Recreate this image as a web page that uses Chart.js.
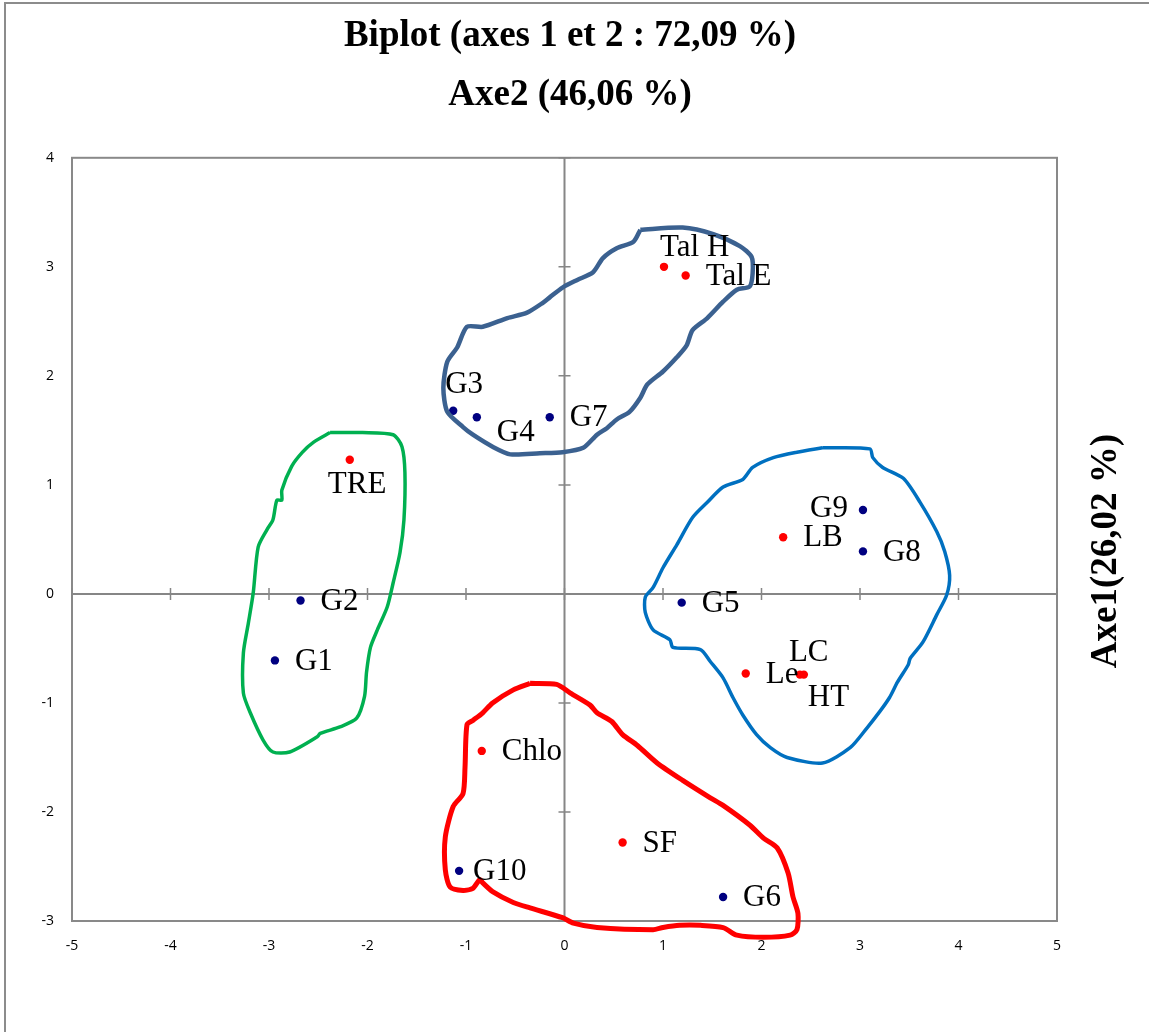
<!DOCTYPE html>
<html>
<head>
<meta charset="utf-8">
<script src="https://cdn.jsdelivr.net/npm/chart.js@4/dist/chart.umd.min.js"></script>
<style>
  html, body { margin: 0; padding: 0; background: #fff; }
  #wrap { width: 1149px; height: 1032px; }
</style>
</head>
<body>
<div id="wrap"><canvas id="biplot"></canvas></div>
<script>
// observations (G1..G10)
const groupNames = ['G1', 'G2', 'G3', 'G4', 'G7', 'G5', 'G9', 'G8', 'G10', 'G6'];
const groupX = [-2.94, -2.68, -1.13, -0.89, -0.15, 1.19, 3.03, 3.03, -1.07, 1.61];
const groupY = [-0.61, -0.06, 1.68, 1.62, 1.62, -0.08, 0.77, 0.39, -2.54, -2.78];

// variables
const varNames = ['TRE', 'Tal H', 'Tal E', 'LB', 'Le', 'LC', 'HT', 'Chlo', 'SF'];
const varX = [-2.18, 1.01, 1.23, 2.22, 1.84, 2.39, 2.43, -0.84, 0.59];
const varY = [1.23, 3.00, 2.92, 0.52, -0.73, -0.74, -0.74, -1.44, -2.28];

const xTicks = [-5, -4, -3, -2, -1, 0, 1, 2, 3, 4, 5];
const yTicks = [-3, -2, -1, 0, 1, 2, 3, 4];

// hand drawn groupings, in axis units
const hullTal = [[0.77,3.34],[1.20,3.36],[1.51,3.30],[1.78,3.19],[1.90,3.09],[1.91,2.94],[1.88,2.82],[1.75,2.79],
  [1.61,2.68],[1.45,2.53],[1.30,2.42],[1.24,2.28],[1.14,2.17],[1.00,2.04],[0.84,1.92],[0.77,1.80],[0.66,1.67],
  [0.53,1.60],[0.43,1.52],[0.33,1.46],[0.19,1.34],[-0.02,1.30],[-0.25,1.29],[-0.55,1.28],[-0.73,1.35],[-0.93,1.46],
  [-1.03,1.53],[-1.19,1.67],[-1.23,1.89],[-1.19,2.13],[-1.09,2.26],[-0.99,2.45],[-0.83,2.45],[-0.58,2.53],
  [-0.38,2.58],[-0.22,2.67],[-0.15,2.72],[-0.02,2.81],[0.13,2.88],[0.29,2.95],[0.39,3.08],[0.53,3.17],[0.70,3.23],[0.77,3.34]];
const hullTre = [[-2.38,1.48],[-2.05,1.48],[-1.74,1.46],[-1.65,1.35],[-1.62,1.11],[-1.63,0.68],[-1.67,0.38],[-1.74,0.10],
  [-1.80,-0.12],[-1.90,-0.33],[-1.97,-0.49],[-2.01,-0.72],[-2.03,-0.94],[-2.11,-1.14],[-2.28,-1.22],[-2.48,-1.28],
  [-2.51,-1.31],[-2.79,-1.45],[-2.96,-1.45],[-3.06,-1.34],[-3.19,-1.09],[-3.26,-0.91],[-3.26,-0.54],[-3.21,-0.27],
  [-3.16,0.01],[-3.11,0.43],[-3.02,0.59],[-2.96,0.68],[-2.92,0.86],[-2.87,0.86],[-2.87,0.95],[-2.77,1.17],
  [-2.66,1.30],[-2.55,1.39],[-2.38,1.48]];
const hullLb = [[2.62,1.34],[3.10,1.33],[3.13,1.25],[3.23,1.16],[3.44,1.06],[3.61,0.84],[3.78,0.57],[3.86,0.39],
  [3.91,0.17],[3.88,-0.01],[3.78,-0.19],[3.64,-0.44],[3.51,-0.59],[3.49,-0.65],[3.38,-0.81],[3.30,-0.95],
  [3.20,-1.08],[3.07,-1.23],[2.90,-1.41],[2.62,-1.55],[2.26,-1.50],[2.09,-1.41],[1.95,-1.29],[1.81,-1.11],
  [1.71,-0.95],[1.61,-0.77],[1.48,-0.62],[1.38,-0.51],[1.10,-0.49],[1.07,-0.42],[0.90,-0.33],[0.82,-0.17],
  [0.82,-0.03],[0.90,0.06],[1.00,0.24],[1.14,0.45],[1.30,0.70],[1.45,0.84],[1.61,0.98],[1.81,1.05],[1.91,1.16],
  [2.12,1.25],[2.36,1.30],[2.62,1.34]];
const hullSf = [[-0.35,-0.82],[-0.08,-0.83],[0.06,-0.91],[0.26,-1.02],[0.33,-1.09],[0.48,-1.17],[0.59,-1.29],[0.74,-1.39],
  [0.94,-1.55],[1.20,-1.71],[1.48,-1.87],[1.61,-1.94],[1.88,-2.12],[2.02,-2.24],[2.16,-2.33],[2.27,-2.56],
  [2.32,-2.78],[2.37,-2.93],[2.36,-3.08],[2.29,-3.13],[2.02,-3.15],[1.75,-3.13],[1.61,-3.06],[1.38,-3.04],
  [1.17,-3.04],[1.00,-3.06],[0.90,-3.08],[0.33,-3.06],[0.09,-3.02],[-0.02,-2.97],[-0.35,-2.88],[-0.52,-2.83],
  [-0.73,-2.73],[-0.83,-2.65],[-0.86,-2.62],[-0.93,-2.70],[-1.03,-2.72],[-1.16,-2.69],[-1.21,-2.53],[-1.21,-2.23],
  [-1.13,-1.95],[-1.03,-1.83],[-1.01,-1.59],[-0.99,-1.20],[-0.93,-1.16],[-0.83,-1.09],[-0.73,-1.00],[-0.52,-0.88],[-0.35,-0.82]];

// label offsets from the marker (px); default is to the right
const labelPlace = {
  'Tal H': [-4, -19], 'G3': [-8, -26], 'G4': [20, 16], 'TRE': [-22, 25],
  'G9': [-15, -1, 'right'], 'LC': [-11, -22], 'HT': [4, 23], 'G10': [14, 1]
};

const toPts = (xs, ys) => xs.map((x, i) => ({ x: x, y: ys[i] }));
const toPairs = arr => arr.map(p => ({ x: p[0], y: p[1] }));

function hull(data, color, width) {
  return {
    data: toPairs(data),
    showLine: true,
    borderColor: color,
    borderWidth: width,
    pointRadius: 0,
    fill: false,
    tension: 0.25,
    clip: false
  };
}

const frame = {
  id: 'frame',
  beforeDraw(chart) {
    const { ctx, chartArea: a } = chart;
    ctx.save();
    ctx.fillStyle = '#fff';
    ctx.fillRect(0, 0, chart.width, chart.height);
    ctx.strokeStyle = '#8c8c8c';
    ctx.lineWidth = 2;
    ctx.strokeRect(5, 3, chart.width + 10, chart.height + 10);
    ctx.strokeStyle = '#898989';
    ctx.strokeRect(a.left, a.top, a.right - a.left, a.bottom - a.top);
    ctx.restore();
  },
  beforeDatasetsDraw(chart) {
    const { ctx, chartArea: a, scales } = chart;
    const x0 = scales.x.getPixelForValue(0);
    const y0 = scales.y.getPixelForValue(0);
    ctx.save();
    ctx.strokeStyle = '#868686';
    ctx.lineWidth = 2;
    ctx.beginPath();
    ctx.moveTo(a.left, y0); ctx.lineTo(a.right, y0);
    ctx.moveTo(x0, a.top); ctx.lineTo(x0, a.bottom);
    ctx.stroke();
    ctx.lineWidth = 1.5;
    ctx.beginPath();
    xTicks.forEach(v => {
      const px = scales.x.getPixelForValue(v);
      ctx.moveTo(px, y0 - 6); ctx.lineTo(px, y0 + 6);
    });
    yTicks.forEach(v => {
      const py = scales.y.getPixelForValue(v);
      ctx.moveTo(x0 - 6, py); ctx.lineTo(x0 + 6, py);
    });
    ctx.stroke();
    ctx.restore();
  },
  afterDatasetsDraw(chart) {
    const { ctx } = chart;
    ctx.save();
    ctx.font = '31px "Liberation Serif"';
    ctx.fillStyle = '#000';
    ctx.textBaseline = 'middle';
    [[4, groupNames], [5, varNames]].forEach(([di, names]) => {
      chart.getDatasetMeta(di).data.forEach((pt, i) => {
        const p = labelPlace[names[i]] || [20, 1];
        ctx.textAlign = p[2] || 'left';
        ctx.fillText(names[i], pt.x + p[0], pt.y + p[1]);
      });
    });
    // right hand axis title
    ctx.translate(chart.width - 43, 551);
    ctx.rotate(-Math.PI / 2);
    ctx.textAlign = 'center';
    ctx.font = 'bold 37px "Liberation Serif"';
    ctx.fillText('Axe1(26,02 %)', 0, 0);
    ctx.restore();
  }
};

const tickFont = { family: 'Open Sans', size: 14 };

new Chart(document.getElementById('biplot'), {
  type: 'scatter',
  data: {
    datasets: [
      hull(hullTal, '#3b6190', 4.5),
      hull(hullTre, '#00b050', 3.5),
      hull(hullLb, '#0070c0', 3.5),
      hull(hullSf, '#ff0000', 5),
      {
        data: toPts(groupX, groupY),
        backgroundColor: '#000080',
        borderColor: '#000080',
        pointRadius: 4.2,
        borderWidth: 0
      },
      {
        data: toPts(varX, varY),
        backgroundColor: '#ff0000',
        borderColor: '#ff0000',
        pointRadius: 4.2,
        borderWidth: 0
      }
    ]
  },
  options: {
    responsive: true,
    maintainAspectRatio: false,
    animation: false,
    events: [],
    layout: { padding: { left: 0, right: 9, top: 0, bottom: 0 } },
    scales: {
      x: {
        min: -5, max: 5,
        afterFit: s => { s.height = 111; },
        grid: { display: false, drawTicks: false },
        border: { display: false },
        afterBuildTicks: s => { s.ticks = xTicks.map(v => ({ value: v })); },
        ticks: { font: tickFont, color: '#000', padding: 17, autoSkip: false, maxRotation: 0 }
      },
      y: {
        min: -3, max: 4,
        afterFit: s => { s.width = 72; },
        grid: { display: false, drawTicks: false },
        border: { display: false },
        afterBuildTicks: s => { s.ticks = yTicks.map(v => ({ value: v })); },
        ticks: { font: tickFont, color: '#000', padding: 18, autoSkip: false }
      },
      // empty right axis: keeps room for the rotated "Axe1" title
      yRight: {
        position: 'right',
        min: -3, max: 4,
        afterFit: s => { s.width = 83; },
        grid: { display: false, drawTicks: false },
        border: { display: false },
        ticks: { display: false }
      }
    },
    plugins: {
      legend: { display: false },
      tooltip: { enabled: false },
      title: {
        display: true,
        text: 'Biplot (axes 1 et 2 : 72,09 %)',
        color: '#000',
        font: { family: 'Liberation Serif', size: 37, weight: 'bold' },
        padding: { top: 14, bottom: 0 }
      },
      subtitle: {
        display: true,
        text: 'Axe2 (46,06 %)',
        color: '#000',
        font: { family: 'Liberation Serif', size: 37, weight: 'bold' },
        padding: { top: 15, bottom: 40 }
      }
    }
  },
  plugins: [frame]
});
</script>
</body>
</html>
